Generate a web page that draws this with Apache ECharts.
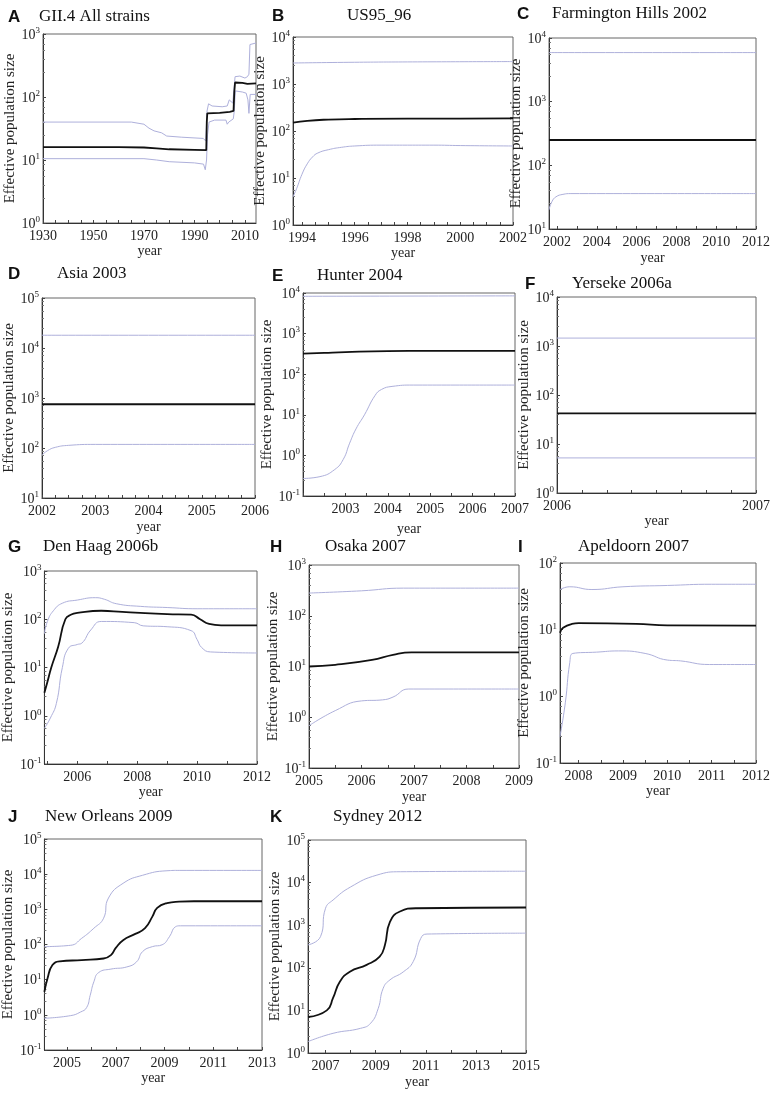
<!DOCTYPE html>
<html><head><meta charset="utf-8">
<script src="https://cdn.jsdelivr.net/npm/echarts@6/dist/echarts.min.js"></script>
<style>html,body{margin:0;padding:0;background:#fff}#c{width:773px;height:1094px}</style>
</head><body><div id="c"></div>
<script>
// ---------------- DATA ----------------
const panelIds = ['A','B','C','D','E','F','G','H','I','J','K'];
const panelLetters = ['A','B','C','D','E','F','G','H','I','J','K'];
const panelTitles = ['GII.4 All strains','US95_96','Farmington Hills 2002','Asia 2003','Hunter 2004','Yerseke 2006a','Den Haag 2006b','Osaka 2007','Apeldoorn 2007','New Orleans 2009','Sydney 2012'];
const xLabel = 'year';
const yLabel = 'Effective population size';

// x extents (years) and y extents (decade exponents)
const xExtents = [[1930,2014.4],[1993.66,2002],[2001.6,2012],[2002,2006],[2002,2007],[2006,2007],[2004.9,2012],[2005,2009],[2007.58,2012],[2004.07,2013],[2006.3,2015]];
const yExponents = [[0,3],[0,4],[1,4],[1,5],[-1,4],[0,4],[-1,3],[-1,3],[-1,2],[-1,5],[0,5]];

// x tick labels per panel
const xTickLabels = [
  [1930,1950,1970,1990,2010],
  [1994,1996,1998,2000,2002],
  [2002,2004,2006,2008,2010,2012],
  [2002,2003,2004,2005,2006],
  [2003,2004,2005,2006,2007],
  [2006,2007],
  [2006,2008,2010,2012],
  [2005,2006,2007,2008,2009],
  [2008,2009,2010,2011,2012],
  [2005,2007,2009,2011,2013],
  [2007,2009,2011,2013,2015]
];
const xTickSteps = [5,0.5,1,0.25,0.5,0.125,1,0.5,0.5,1,1];

// Series: [year, Ne]
const A_median = [[1930,16],[1960,16],[1970,15.8],[1975,15.3],[1980,14.8],[1990,14.5],[1994.7,14.3],[1994.9,40],[1995.1,55],[2000,56],[2004,58],[2005.5,60],[2005.8,120],[2006.1,170],[2009,168],[2011,162],[2014.4,165]];
const A_upper = [[1930,40],[1965,40],[1970,37],[1972,32],[1974,29],[1977,27],[1979,24],[1985,23],[1993.5,22],[1994.5,20],[1995.0,60],[1995.6,78],[1997,72],[2001,70],[2003,72],[2003.8,90],[2005.2,80],[2005.7,85],[2006.1,210],[2008,215],[2010,200],[2011,210],[2011.6,230],[2012,680],[2014.4,720]];
const A_lower = [[1930,10.5],[1970,10.5],[1975,10],[1980,9.4],[1990,9],[1993.6,8.6],[1994.3,7],[1994.8,10],[1995.2,25],[1995.8,40],[1998,43],[2002.5,43],[2003,37],[2003.6,40],[2005.4,45],[2005.8,60],[2006.2,125],[2009,120],[2010.5,115],[2011.2,90],[2011.6,55],[2012.1,110],[2014.4,110]];

const B_median = [[1993.66,150],[1994.2,165],[1995,175],[1996,180],[1998,183],[2000,183],[2002,185]];
const B_upper = [[1993.66,2800],[1996,2900],[1998,2950],[2002,3000]];
const B_lower = [[1993.66,4],[1993.8,6],[1994.0,12],[1994.2,20],[1994.4,28],[1994.6,34],[1995.0,40],[1995.5,45],[1996,48],[1997,50],[1999,50],[2000,49],[2002,48]];

const C_median = [[2001.6,250],[2012,250]];
const C_upper = [[2001.6,5900],[2012,5900]];
const C_lower = [[2001.6,20],[2001.75,27],[2001.95,32],[2002.3,35],[2002.7,36],[2012,36]];

const D_median = [[2002,750],[2006,750]];
const D_upper = [[2002,18000],[2006,18000]];
const D_lower = [[2002,72],[2002.1,88],[2002.25,103],[2002.5,113],[2003,118],[2006,118]];

const E_median = [[2002,320],[2002.5,335],[2003,350],[2004,370],[2005,375],[2007,375]];
const E_upper = [[2002,8300],[2007,8500]];
const E_lower = [[2002,0.27],[2002.4,0.3],[2002.75,0.45],[2002.95,0.8],[2003.1,2],[2003.25,4.5],[2003.45,10],[2003.7,30],[2003.85,42],[2004.1,50],[2004.6,54],[2007,54]];

const F_median = [[2006,42],[2007,42]];
const F_upper = [[2006,1450],[2007,1450]];
const F_lower = [[2006,5.2],[2007,5.2]];

const G_median = [[2004.9,3],[2005.0,5],[2005.13,10],[2005.36,27],[2005.6,100],[2005.8,125],[2006.0,135],[2006.8,150],[2007.5,142],[2008.1,135],[2009,128],[2009.8,125],[2010.1,100],[2010.4,80],[2010.8,75],[2012,75]];
const G_upper = [[2004.9,50],[2005.0,90],[2005.2,150],[2005.5,215],[2006.0,250],[2006.6,280],[2006.9,260],[2007.3,210],[2008.1,185],[2009,175],[2010,165],[2012,165]];
const G_lower = [[2004.9,0.55],[2005.1,0.9],[2005.3,1.8],[2005.5,10],[2005.7,25],[2006.0,30],[2006.15,32],[2006.45,60],[2006.8,90],[2007.9,85],[2008.2,73],[2009,70],[2009.8,58],[2010.0,38],[2010.15,26],[2010.45,21],[2012,20]];

const H_median = [[2005,10],[2005.5,10.8],[2006.2,13.5],[2006.6,17],[2006.95,19],[2009,19]];
const H_upper = [[2005,280],[2006,310],[2006.8,350],[2009,350]];
const H_lower = [[2005,0.68],[2005.5,1.35],[2006.0,2.1],[2006.4,2.2],[2006.6,2.5],[2006.9,3.6],[2009,3.6]];

const I_median = [[2007.58,9],[2007.65,10.7],[2007.85,12.2],[2008,12.5],[2009.3,12.2],[2010,11.6],[2012,11.5]];
const I_upper = [[2007.58,40],[2007.8,44],[2008.3,40],[2009,44],[2010,46],[2011,48],[2012,48]];
const I_lower = [[2007.58,0.25],[2007.7,0.8],[2007.8,3.2],[2007.87,4.4],[2008.4,4.6],[2008.9,4.8],[2009.5,4.4],[2010,3.5],[2010.3,3.4],[2010.95,3.0],[2012,3.0]];

const J_median = [[2004.07,4.5],[2004.2,11],[2004.4,26],[2004.7,33],[2005.6,36],[2006.5,40],[2006.8,50],[2007.0,80],[2007.3,133],[2007.8,200],[2008.2,290],[2008.5,620],[2008.7,1100],[2009.1,1500],[2009.6,1650],[2010.2,1700],[2013,1700]];
const J_upper = [[2004.07,87],[2005.15,95],[2005.6,150],[2006.1,290],[2006.5,560],[2006.7,2100],[2007.3,5500],[2008.1,9300],[2009.1,12500],[2009.6,12800],[2013,12800]];
const J_lower = [[2004.07,0.8],[2005.15,0.95],[2005.55,1.2],[2005.8,1.6],[2005.95,3.6],[2006.1,8.7],[2006.3,16],[2006.8,20],[2007.45,23],[2007.85,32],[2008.1,63],[2008.5,87],[2008.9,98],[2009.2,166],[2009.45,320],[2009.65,340],[2013,340]];

const K_median = [[2006.3,7],[2007.05,10],[2007.3,19.6],[2007.57,47],[2007.97,81],[2008.64,117],[2009.16,182],[2009.37,345],[2009.57,1200],[2009.97,2100],[2010.64,2500],[2015,2600]];
const K_upper = [[2006.3,345],[2006.8,540],[2007.0,2500],[2007.3,3900],[2008,7900],[2009.05,15000],[2010,18000],[2015,18500]];
const K_lower = [[2006.3,1.85],[2007.3,2.9],[2008.4,3.8],[2008.8,5],[2009.1,11],[2009.3,33],[2009.57,52],[2010.1,80],[2010.5,140],[2010.8,490],[2011.05,620],[2015,650]];

const medians = [A_median,B_median,C_median,D_median,E_median,F_median,G_median,H_median,I_median,J_median,K_median];
const uppers = [A_upper,B_upper,C_upper,D_upper,E_upper,F_upper,G_upper,H_upper,I_upper,J_upper,K_upper];
const lowers = [A_lower,B_lower,C_lower,D_lower,E_lower,F_lower,G_lower,H_lower,I_lower,J_lower,K_lower];

// ---------------- LAYOUT ----------------
// plot boxes: [left, top, right, bottom] in px
const boxes = [
  [43,34,256,223],[293,37,513,225],[549,38,758,229],
  [42,298,255,498],[303,293,515,496],[557,297,763,493],
  [43,571,257,764],[309,565,519,768],[560,563,759,763],
  [40,839,262,1050],[308,840,526,1053]
];
// [letterX, titleX, titleCenterY]
const headPos = [
  [8,39,18],[272,347,17],[517,552,15],
  [8,57,275],[272,317,277],[525,572,285],
  [8,43,548],[270,325,548],[518,578,548],
  [8,45,818],[270,333,818]
];
const yNameGaps = [24,23,23,23,26,25,26,26,25,26,24];
const xNameGaps = [18,18,22,22,26,14,21,22,19,19,22];
const smoothFlags = [false,0.5,0.5,0.5,0.5,false,0.5,0.5,0.5,0.5,0.5];

const SERIF = "'Liberation Serif','DejaVu Serif',serif";
const SANS = "'Liberation Sans','DejaVu Sans',sans-serif";
const BOUND_COLOR = '#aeb0db';

function stepValues(a, b, s) {
  const out = [];
  const start = Math.ceil(a / s - 1e-9);
  for (let k = start; k * s <= b + 1e-9; k++) out.push(+(k * s).toFixed(4));
  return out;
}

const grids = [], xAxes = [], yAxes = [], series = [], titles = [];
panelIds.forEach((id, i) => {
  const [l, t, r, b] = boxes[i];
  grids.push({left: l, top: t, width: r - l, height: b - t, show: true, borderColor: '#666', borderWidth: 1, containLabel: false});
  const [x0, x1] = xExtents[i];
  xAxes.push({
    type: 'value', gridIndex: i, min: x0, max: x1,
    axisLine: {show: true, onZero: false, lineStyle: {color: '#333', width: 1}},
    axisTick: {show: true, inside: true, length: 3, customValues: stepValues(x0, x1, xTickSteps[i]), lineStyle: {color: '#444'}},
    axisLabel: {customValues: xTickLabels[i], margin: 6, fontFamily: SERIF, fontSize: 14, color: '#222',
      formatter: v => String(Math.round(v))},
    splitLine: {show: false},
    name: xLabel, nameLocation: 'middle', nameGap: xNameGaps[i],
    nameTextStyle: {fontFamily: SERIF, fontSize: 14, color: '#222'}
  });
  const [e0, e1] = yExponents[i];
  yAxes.push({
    type: 'log', logBase: 10, gridIndex: i, min: Math.pow(10, e0), max: Math.pow(10, e1),
    axisLine: {show: true, lineStyle: {color: '#333', width: 1}},
    axisTick: {show: true, inside: true, length: 3, lineStyle: {color: '#444'}},
    minorTick: {show: true, splitNumber: 6, length: 2, lineStyle: {color: '#777'}},
    axisLabel: {
      margin: 3,
      formatter: v => { const e = Math.round(Math.log10(v)); return '{b|10}{s|' + (e < 0 ? '-' : '') + Math.abs(e) + '}'; },
      rich: {
        b: {fontFamily: SERIF, fontSize: 14, color: '#222', lineHeight: 16, verticalAlign: 'bottom'},
        s: {fontFamily: SERIF, fontSize: 9, color: '#222', lineHeight: 6, verticalAlign: 'top'}
      }
    },
    splitLine: {show: false},
    name: yLabel, nameLocation: 'middle', nameGap: yNameGaps[i],
    nameTextStyle: {fontFamily: SERIF, fontSize: 15, color: '#222'}
  });
  const mk = (data, color, width, z) => ({
    type: 'line', xAxisIndex: i, yAxisIndex: i, data: data, symbol: 'none', showSymbol: false,
    smooth: smoothFlags[i], silent: true, animation: false, z: z,
    lineStyle: {color: color, width: width}
  });
  series.push(mk(uppers[i], BOUND_COLOR, 1, 2));
  series.push(mk(lowers[i], BOUND_COLOR, 1, 2));
  series.push(mk(medians[i], '#111', 1.8, 3));
  const [lx, tx, cy] = headPos[i];
  titles.push({text: panelLetters[i], left: lx, top: cy - 9, padding: 0,
    textStyle: {fontFamily: SANS, fontWeight: 'bold', fontSize: 17, color: '#111'}});
  titles.push({text: panelTitles[i], left: tx, top: cy - 10, padding: 0,
    textStyle: {fontFamily: SERIF, fontWeight: 'normal', fontSize: 17, color: '#111'}});
});

const chart = echarts.init(document.getElementById('c'), null, {renderer: 'canvas'});
chart.setOption({
  animation: false,
  backgroundColor: '#fff',
  title: titles,
  grid: grids,
  xAxis: xAxes,
  yAxis: yAxes,
  series: series
});
</script>
</body></html>
